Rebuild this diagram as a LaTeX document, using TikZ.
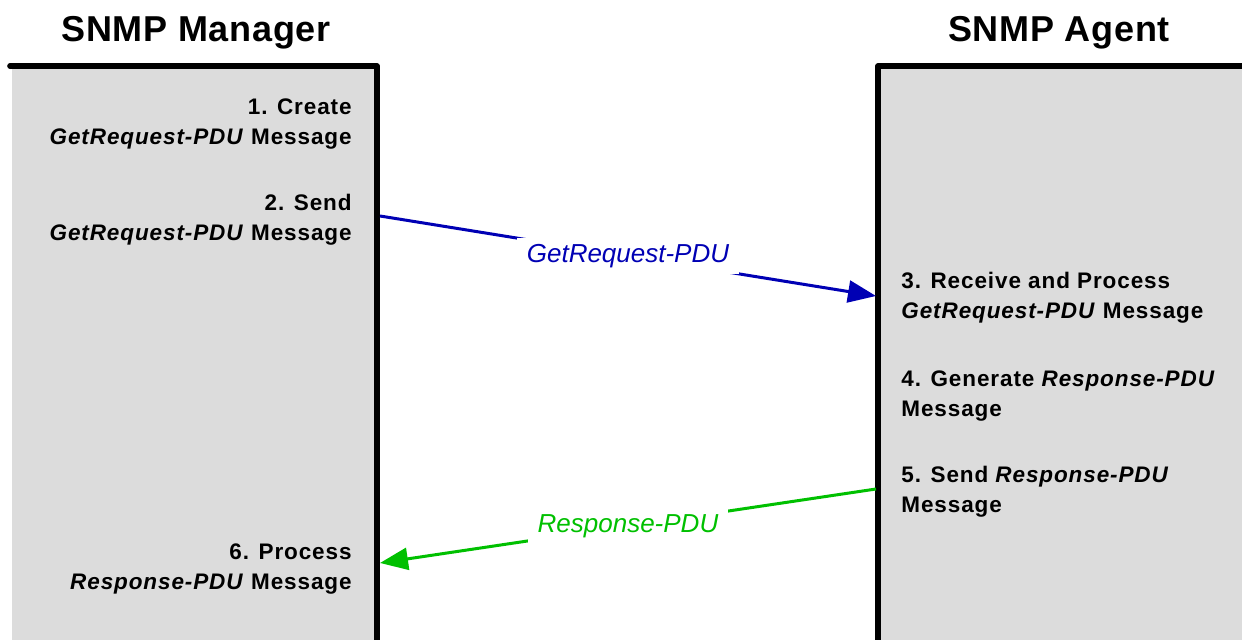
\documentclass[tikz,border=0pt]{standalone}
\usepackage{fontspec}
\setmainfont{Liberation Sans}
\newfontfamily\stepfont{Liberation Sans}[LetterSpace=4]
\newfontfamily\titlefont{Liberation Sans}[LetterSpace=2]
\usepackage{tikz}
\usetikzlibrary{arrows.meta}
\definecolor{PanelGray}{HTML}{DCDCDC}
\definecolor{ReqBlue}{HTML}{0000B4}
\definecolor{RespGreen}{HTML}{00C000}

\begin{document}
\begin{tikzpicture}[x=0.5pt,y=-0.5pt,
    title/.style={font=\titlefont\bfseries\fontsize{18}{21}\selectfont,inner sep=0pt,anchor=base},
    stepl/.style={font=\stepfont\bfseries\fontsize{11.25}{15}\selectfont,inner sep=0pt,
                  align=right,anchor=north east},
    stepr/.style={font=\stepfont\bfseries\fontsize{11.25}{15}\selectfont,inner sep=0pt,
                  align=left,anchor=north west},
    border/.style={line width=2.8pt,line cap=round,line join=round},
    lbl/.style={font=\fontsize{13}{15}\selectfont\itshape,fill=white,inner xsep=5pt,inner ysep=3pt},
    ar/.style={line width=1.5pt,-{Triangle[length=14pt,width=11pt]}}]
  \useasboundingbox (0,0) rectangle (1242,640);
  \fill[PanelGray] (12,66) rectangle (377,640);
  \fill[PanelGray] (878,66) rectangle (1242,640);
  \draw[border] (10,66) -- (377,66) -- (377,642);
  \draw[border] (1244,66) -- (878,66) -- (878,642);

  \node[title] (mgr) at (196,42) {SNMP Manager};
  \node[title] (agt) at (1059,42) {SNMP Agent};

  \node[stepl] (s1) at (352,98) {1. Create\\\textit{GetRequest-PDU} Message};
  \node[stepl] (s2) at (352,194) {2. Send\\\textit{GetRequest-PDU} Message};
  \node[stepr] (s3) at (901,272) {3. Receive and Process\\\textit{GetRequest-PDU} Message};
  \node[stepr] (s4) at (901,370) {4. Generate \textit{Response-PDU}\\Message};
  \node[stepr] (s5) at (901,466) {5. Send \textit{Response-PDU}\\Message};
  \node[stepl] (s6) at (352,543) {6. Process\\\textit{Response-PDU} Message};

  \coordinate (reqout) at (380,216);
  \coordinate (reqin) at (876,296);
  \coordinate (respout) at (876,489);
  \coordinate (respin) at (380,563);
  \draw[ar,ReqBlue] (reqout) -- node[lbl,text=ReqBlue] (req) {GetRequest-PDU} (reqin);
  \draw[ar,RespGreen] (respout) -- node[lbl,text=RespGreen] (resp) {Response-PDU} (respin);
\end{tikzpicture}
\end{document}
